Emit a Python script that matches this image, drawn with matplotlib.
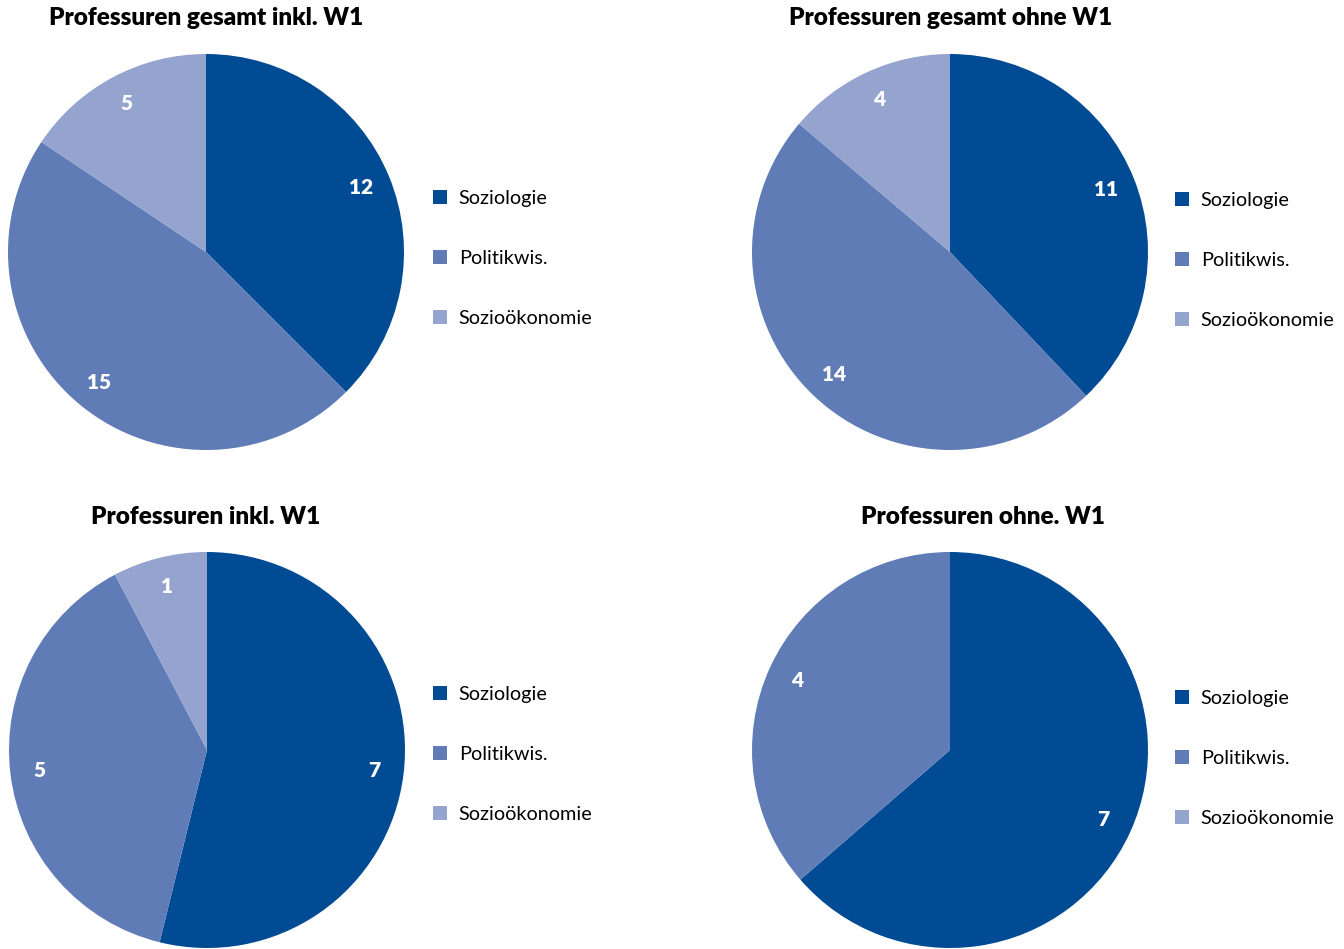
import matplotlib
matplotlib.use("Agg")
import matplotlib.pyplot as plt
from matplotlib.patches import Patch

plt.rcParams['font.family'] = ['Lato', 'DejaVu Sans']

categories = ["Soziologie", "Politikwis.", "Sozioökonomie"]
colors = ["#004B93", "#607CB7", "#95A3CF"]

titles = [
    "Professuren gesamt inkl. W1",
    "Professuren gesamt ohne W1",
    "Professuren inkl. W1",
    "Professuren ohne. W1",
]
gesamt_inkl_w1 = [12, 15, 5]
gesamt_ohne_w1 = [11, 14, 4]
inkl_w1 = [7, 5, 1]
ohne_w1 = [7, 4, 0]
series = [gesamt_inkl_w1, gesamt_ohne_w1, inkl_w1, ohne_w1]

W, H = 1344, 949
fig = plt.figure(figsize=(W / 100, H / 100), dpi=100)
fig.patch.set_facecolor("white")

# pixel layout: pie centre (x, y from top), title position, legend anchor
R = 198
layout = [
    dict(cx=206, cy=252, tx=206, ty=18, lx=433, ly=204),
    dict(cx=950, cy=252, tx=951, ty=18, lx=1175, ly=206),
    dict(cx=207, cy=750, tx=206, ty=517, lx=433, ly=700),
    dict(cx=950, cy=750, tx=983, ty=517, lx=1175, ly=704),
]

for vals, title, lay in zip(series, titles, layout):
    ax = fig.add_axes([(lay["cx"] - R) / W, (H - lay["cy"] - R) / H,
                       2 * R / W, 2 * R / H])
    total = sum(vals)
    wedges, texts, autotexts = ax.pie(
        vals, colors=colors, startangle=90, counterclock=False,
        autopct=lambda p: f"{round(p * total / 100):d}" if p > 0 else "",
        pctdistance=0.85, wedgeprops=dict(linewidth=0),
        textprops=dict(color="white", fontsize=15, fontweight="heavy"))
    ax.set_xlim(-1, 1)
    ax.set_ylim(-1, 1)
    ax.set_aspect("equal")

    fig.text(lay["tx"] / W, 1 - lay["ty"] / H, title, ha="center", va="center",
             fontsize=17.5, fontweight="heavy", color="black")

    handles = [Patch(facecolor=c, edgecolor="none", label=lab)
               for c, lab in zip(colors, categories)]
    fig.legend(handles=handles, loc="upper left",
               bbox_to_anchor=(lay["lx"] / W, 1 - (lay["ly"] - 14) / H),
               frameon=False, fontsize=14.3, handlelength=0.7,
               handleheight=0.7, handletextpad=0.6, labelspacing=2.17,
               borderaxespad=0, borderpad=0)

fig.savefig("out.png", dpi=100, facecolor="white")
